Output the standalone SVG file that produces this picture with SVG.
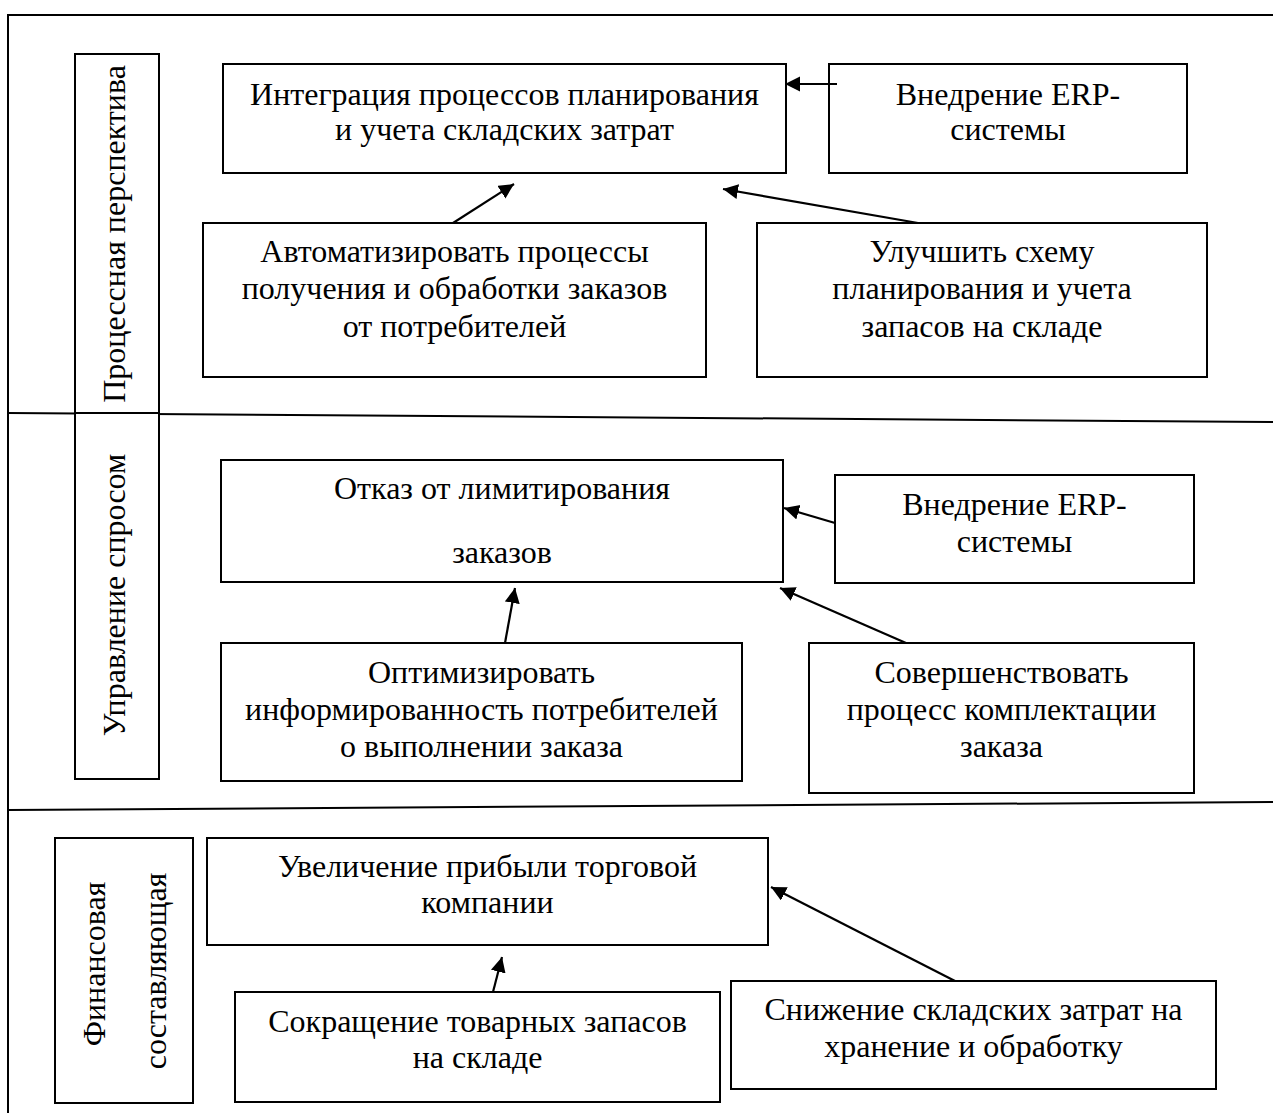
<svg xmlns="http://www.w3.org/2000/svg" width="1273" height="1113" viewBox="0 0 1273 1113">
<style>
.box{fill:#fff;stroke:#000;stroke-width:2}
.frame{fill:none;stroke:#000;stroke-width:2}
.t{font-family:"Liberation Serif","Times New Roman",serif;font-size:32px;fill:#000;text-anchor:middle}
.conn line{stroke:#000;stroke-width:2.2;marker-end:url(#ah)}
</style>
<defs>
<marker id="ah" markerUnits="userSpaceOnUse" markerWidth="16" markerHeight="16" refX="15" refY="7.5" orient="auto">
<path d="M0,0 L15,7.5 L0,15 z" fill="#000"/>
</marker>
</defs>
<rect width="1273" height="1113" fill="#fff"/>
<g id="frame">
<path class="frame" d="M8,1113 V15 H1273"/>
<line class="frame" x1="8" y1="413" x2="1273" y2="422"/>
<line class="frame" x1="8" y1="810" x2="1273" y2="802"/>
</g>
<g id="label-process">
<rect class="box" x="75" y="54" width="84" height="359"/>
<text class="t" transform="translate(125,234) rotate(-90)">Процессная перспектива</text>
</g>
<g id="label-demand">
<rect class="box" x="75" y="413" width="84" height="366"/>
<text class="t" transform="translate(125,595) rotate(-90)">Управление спросом</text>
</g>
<g id="label-finance">
<rect class="box" x="55" y="838" width="138" height="265"/>
<text class="t" transform="translate(105,964) rotate(-90)">Финансовая</text>
<text class="t" transform="translate(166,971) rotate(-90)">составляющая</text>
</g>
<g id="node-integration">
<rect class="box" x="223" y="64" width="563" height="109"/>
<text class="t" x="504.5" y="105">Интеграция процессов планирования</text>
<text class="t" x="504.5" y="140">и учета складских затрат</text>
</g>
<g id="node-erp1">
<rect class="box" x="829" y="64" width="358" height="109"/>
<text class="t" x="1008" y="105">Внедрение ERP-</text>
<text class="t" x="1008" y="140">системы</text>
</g>
<g id="node-automate">
<rect class="box" x="203" y="223" width="503" height="154"/>
<text class="t" x="454.5" y="262">Автоматизировать процессы</text>
<text class="t" x="454.5" y="299">получения и обработки заказов</text>
<text class="t" x="454.5" y="337">от потребителей</text>
</g>
<g id="node-improve">
<rect class="box" x="757" y="223" width="450" height="154"/>
<text class="t" x="982" y="262">Улучшить схему</text>
<text class="t" x="982" y="299">планирования и учета</text>
<text class="t" x="982" y="337">запасов на складе</text>
</g>
<g id="node-refuse">
<rect class="box" x="221" y="460" width="562" height="122"/>
<text class="t" x="502" y="499">Отказ от лимитирования</text>
<text class="t" x="502" y="563">заказов</text>
</g>
<g id="node-erp2">
<rect class="box" x="835" y="475" width="359" height="108"/>
<text class="t" x="1014.5" y="515">Внедрение ERP-</text>
<text class="t" x="1014.5" y="552">системы</text>
</g>
<g id="node-optimize">
<rect class="box" x="221" y="643" width="521" height="138"/>
<text class="t" x="481.5" y="683">Оптимизировать</text>
<text class="t" x="481.5" y="720">информированность потребителей</text>
<text class="t" x="481.5" y="757">о выполнении заказа</text>
</g>
<g id="node-perfect">
<rect class="box" x="809" y="643" width="385" height="150"/>
<text class="t" x="1001.5" y="683">Совершенствовать</text>
<text class="t" x="1001.5" y="720">процесс комплектации</text>
<text class="t" x="1001.5" y="757">заказа</text>
</g>
<g id="node-profit">
<rect class="box" x="207" y="838" width="561" height="107"/>
<text class="t" x="487.5" y="877">Увеличение прибыли торговой</text>
<text class="t" x="487.5" y="913">компании</text>
</g>
<g id="node-reduce">
<rect class="box" x="235" y="992" width="485" height="110"/>
<text class="t" x="477.5" y="1032">Сокращение товарных запасов</text>
<text class="t" x="477.5" y="1068">на складе</text>
</g>
<g id="node-costs">
<rect class="box" x="731" y="981" width="485" height="108"/>
<text class="t" x="973.5" y="1020">Снижение складских затрат на</text>
<text class="t" x="973.5" y="1057">хранение и обработку</text>
</g>
<g id="connectors" class="conn">
<line x1="837" y1="84" x2="785" y2="84"/>
<line x1="453" y1="223" x2="514" y2="184"/>
<line x1="918" y1="223" x2="723" y2="189"/>
<line x1="835" y1="523" x2="784" y2="508"/>
<line x1="505" y1="643" x2="515" y2="588"/>
<line x1="906" y1="643" x2="780" y2="588"/>
<line x1="493" y1="992" x2="502" y2="957"/>
<line x1="955" y1="981" x2="771" y2="887"/>
</g>
</svg>
